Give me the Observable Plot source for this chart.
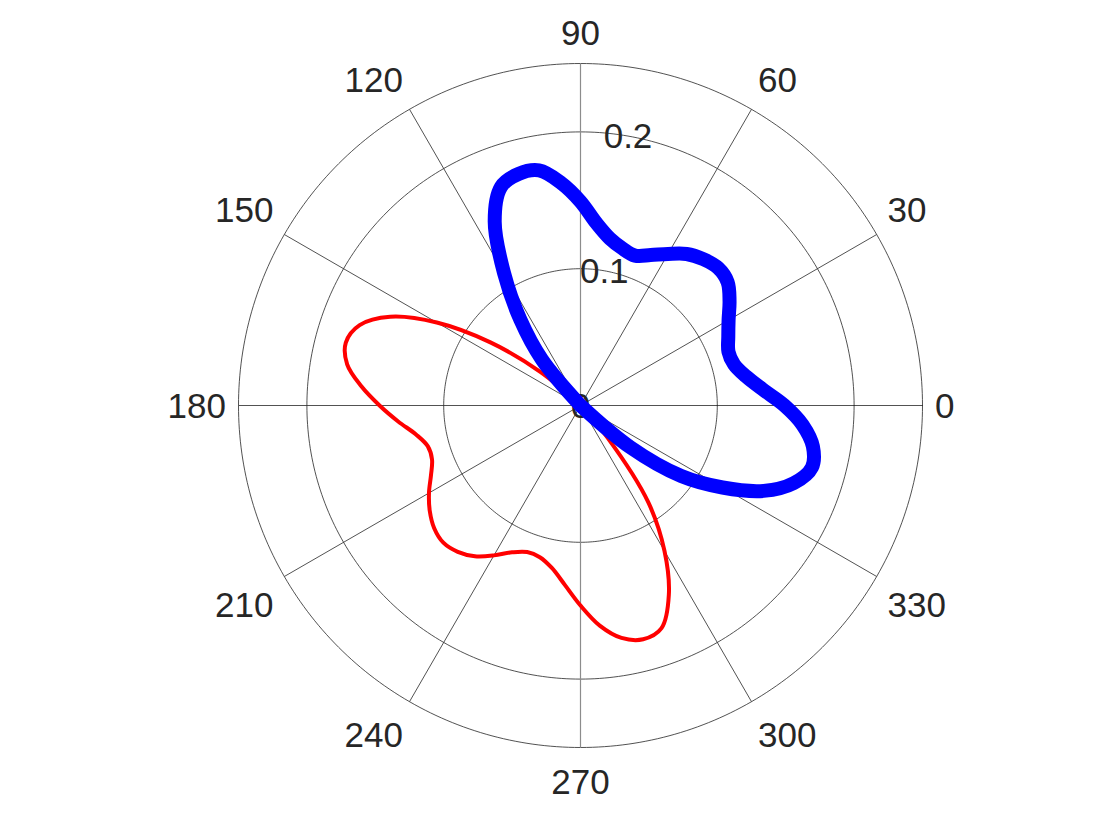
<!DOCTYPE html>
<html>
<head>
<meta charset="utf-8">
<script src="https://cdn.jsdelivr.net/npm/d3@7"></script>
<script src="https://cdn.jsdelivr.net/npm/@observablehq/plot@0.6"></script>
<style>
  html, body { margin: 0; padding: 0; background: #ffffff; }
  #chart svg { display: block; }
</style>
</head>
<body>
<div id="chart"></div>
<script>
// ---- data ----
const angleTicks = [0, 30, 60, 90, 120, 150, 180, 210, 240, 270, 300, 330];
const angleLabels = ["0", "30", "60", "90", "120", "150", "180", "210", "240", "270", "300", "330"];
const ringValues = [0.1, 0.2, 0.25];
const radialTickValues = [0, 0.1, 0.2];
const radialTickLabels = ["0", "0.1", "0.2"];
const rMax = 0.25;
const radialLabelAngle = 80;

const redTheta = [135, 140, 145, 150, 155, 160, 165, 170, 175, 180, 185, 190, 195, 200, 205, 210, 215, 220, 225,
                  230, 235, 240, 245, 250, 255, 260, 265, 270, 275, 280, 285, 290, 295, 300, 305, 310, 315];
const redRho = [0, 0.0380, 0.0804, 0.1213, 0.1535, 0.1718, 0.1776, 0.1732, 0.1608, 0.1469, 0.1338, 0.1221,
                0.1155, 0.1155, 0.1206, 0.1279, 0.1345, 0.1396, 0.1418, 0.1396, 0.1345, 0.1265, 0.1184, 0.1140,
                0.1148, 0.1206, 0.1316, 0.1462, 0.1615, 0.1725, 0.1769, 0.1732, 0.1528, 0.1228, 0.0863, 0.0307, 0];

const blueTheta = [-45, -40, -35, -30, -25, -20, -15, -10, -5, 0, 5, 10, 15, 20, 25, 30, 35, 40, 45,
                   50, 55, 60, 65, 70, 75, 80, 85, 90, 95, 100, 105, 110, 115, 120, 125, 130, 135];
const blueRho = [0, 0.0475, 0.0899, 0.1199, 0.1477, 0.1659, 0.1751, 0.1725, 0.1630, 0.1491, 0.1338, 0.1228,
                 0.1162, 0.1151, 0.1192, 0.1250, 0.1330, 0.1404, 0.1422, 0.1396, 0.1352, 0.1279, 0.1213, 0.1166,
                 0.1188, 0.1239, 0.1338, 0.1491, 0.1634, 0.1745, 0.1752, 0.1700, 0.1484, 0.1118, 0.0768, 0.0439, 0];

// ---- layout ----
const W = 1120, H = 840;
const cx = 580, cy = 405, R = 342;
const marginLeft = cx - R, marginRight = W - (cx + R), marginTop = cy - R, marginBottom = H - (cy + R);
const pxPerUnit = R / rMax;
const rad = d => d * Math.PI / 180;
const FONT = "'Liberation Sans', Arial, Helvetica, sans-serif";
const FS = 35;
const textColor = "#262626";

const polar = (thetas, rhos) => thetas.map((t, i) => ({x: rhos[i] * Math.cos(rad(t)), y: rhos[i] * Math.sin(rad(t))}));

const redPts = polar(redTheta, redRho);
const bluePts = polar(blueTheta, blueRho);

const rings = ringValues.map(v => d3.range(0, 361, 1).map(a => ({ring: v, x: v * Math.cos(rad(a)), y: v * Math.sin(rad(a))})));

const spokes = angleTicks.map(a => ({a, x2: rMax * Math.cos(rad(a)), y2: rMax * Math.sin(rad(a))}));
const spokesDark = spokes.filter(s => s.a !== 90 && s.a !== 270);
const spokesGray = spokes.filter(s => s.a === 90 || s.a === 270);

// angle labels: anchor point just outside the outer circle, label box pushed outward
const charW = 0.556 * FS, pad = 12, halfHTop = 19, halfHBottom = 22.5;
const eps = 1e-9;
const angleLabelData = angleTicks.map((a, i) => {
  const c = Math.cos(rad(a)), s = Math.sin(rad(a));
  const halfW = angleLabels[i].length * charW / 2 + 0.5;
  const ex = Math.abs(c) < eps ? 0 : Math.sign(c) * halfW;
  const ey = Math.abs(s) < eps ? 0 : (s > 0 ? halfHTop : -halfHBottom);
  const px = (R + pad) * c + ex, py = (R + pad) * s + ey;
  return {x: px / pxPerUnit, y: py / pxPerUnit, label: angleLabels[i]};
});

const radialLabelData = radialTickValues.map((v, i) => ({
  x: v * Math.cos(rad(radialLabelAngle)),
  y: v * Math.sin(rad(radialLabelAngle)),
  label: radialTickLabels[i]
}));

const chart = Plot.plot({
  width: W,
  height: H,
  marginLeft, marginRight, marginTop, marginBottom,
  x: {domain: [-rMax, rMax], axis: null},
  y: {domain: [-rMax, rMax], axis: null},
  style: {background: "#ffffff", fontFamily: FONT, overflow: "visible"},
  marks: [
    ...rings.map(r => Plot.line(r, {x: "x", y: "y", stroke: "#262626", strokeWidth: 0.8})),
    Plot.link(spokesDark, {x1: 0, y1: 0, x2: "x2", y2: "y2", stroke: "#262626", strokeWidth: 0.8}),
    Plot.link(spokesGray, {x1: 0, y1: 0, x2: "x2", y2: "y2", stroke: "#8c8c8c", strokeWidth: 1.2}),
    Plot.text(angleLabelData, {x: "x", y: "y", text: "label", fontSize: FS, fontFamily: FONT, fill: textColor,
      textAnchor: "middle", lineAnchor: "middle", dy: 1}),
    Plot.text(radialLabelData, {x: "x", y: "y", text: "label", fontSize: FS, fontFamily: FONT, fill: textColor,
      textAnchor: "middle", lineAnchor: "middle", dy: 1}),
    Plot.line(redPts, {x: "x", y: "y", stroke: "#ff0000", strokeWidth: 4, curve: "catmull-rom",
      strokeLinejoin: "round", strokeLinecap: "round"}),
    Plot.line(bluePts, {x: "x", y: "y", stroke: "#0000ff", strokeWidth: 14, curve: "catmull-rom",
      strokeLinejoin: "round", strokeLinecap: "round"})
  ]
});

document.getElementById("chart").appendChild(chart);
</script>
</body>
</html>
